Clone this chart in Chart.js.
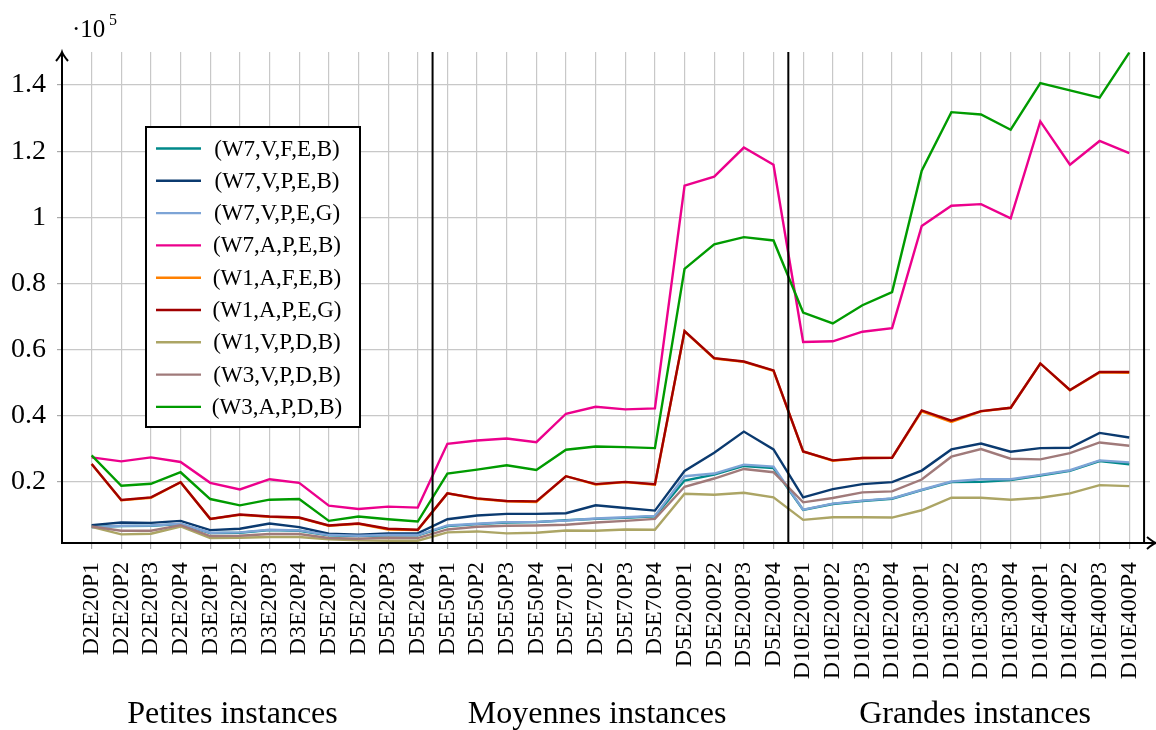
<!DOCTYPE html>
<html>
<head>
<meta charset="utf-8">
<script src="https://cdn.jsdelivr.net/npm/chart.js@4.4.1/dist/chart.umd.min.js"></script>
<style>
  html, body { margin: 0; padding: 0; background: #ffffff; }
  #wrap { width: 1156px; height: 730px; position: relative; }
</style>
</head>
<body>
<div id="wrap"><canvas id="c"></canvas></div>
<script>
// Instance names (x axis)
const instances = [
  'D2E20P1','D2E20P2','D2E20P3','D2E20P4',
  'D3E20P1','D3E20P2','D3E20P3','D3E20P4',
  'D5E20P1','D5E20P2','D5E20P3','D5E20P4',
  'D5E50P1','D5E50P2','D5E50P3','D5E50P4',
  'D5E70P1','D5E70P2','D5E70P3','D5E70P4',
  'D5E200P1','D5E200P2','D5E200P3','D5E200P4',
  'D10E200P1','D10E200P2','D10E200P3','D10E200P4',
  'D10E300P1','D10E300P2','D10E300P3','D10E300P4',
  'D10E400P1','D10E400P2','D10E400P3','D10E400P4'
];

// Instance size groups
const groupNames = ['Petites instances', 'Moyennes instances', 'Grandes instances'];
const groupCentres = [4.75, 17.05, 29.8];
const groupBreaks = [11.5, 23.5, 35.5];

// y ticks, in units of 10^5
const yTicks = [0.2, 0.4, 0.6, 0.8, 1, 1.2, 1.4];

// Series names
const seriesNames = [
  '(W7,V,F,E,B)', '(W7,V,P,E,B)', '(W7,V,P,E,G)', '(W7,A,P,E,B)',
  '(W1,A,F,E,B)', '(W1,A,P,E,G)', '(W1,V,P,D,B)', '(W3,V,P,D,B)', '(W3,A,P,D,B)'
];
const seriesColours = [
  '#00898a', '#0b3a6f', '#7da4d6', '#ec008c',
  '#ff8000', '#a00000', '#aca565', '#a07a7a', '#009b00'
];

// Values, in units of 10^5
const w7vfeb = [
  0.064, 0.066, 0.067, 0.072, 0.045, 0.046, 0.054, 0.052, 0.038, 0.036, 0.038, 0.038,
  0.066, 0.072, 0.077, 0.078, 0.084, 0.088, 0.091, 0.096, 0.204, 0.222, 0.248, 0.242,
  0.115, 0.133, 0.142, 0.149, 0.175, 0.199, 0.200, 0.205, 0.219, 0.233, 0.263, 0.253
];
const w7vpeb = [
  0.069, 0.077, 0.076, 0.082, 0.054, 0.058, 0.074, 0.063, 0.043, 0.040, 0.044, 0.044,
  0.087, 0.098, 0.103, 0.103, 0.105, 0.129, 0.121, 0.113, 0.233, 0.288, 0.352, 0.298,
  0.153, 0.178, 0.193, 0.199, 0.234, 0.298, 0.316, 0.291, 0.302, 0.303, 0.348, 0.334
];
const w7vpeg = [
  0.062, 0.067, 0.068, 0.073, 0.046, 0.047, 0.055, 0.053, 0.039, 0.037, 0.039, 0.039,
  0.068, 0.073, 0.078, 0.079, 0.083, 0.089, 0.093, 0.097, 0.217, 0.225, 0.252, 0.246,
  0.116, 0.134, 0.143, 0.150, 0.176, 0.201, 0.208, 0.208, 0.221, 0.235, 0.265, 0.259
];
const w7apeb = [
  0.274, 0.262, 0.274, 0.260, 0.197, 0.177, 0.208, 0.197, 0.128, 0.118, 0.125, 0.122,
  0.315, 0.325, 0.331, 0.320, 0.406, 0.427, 0.419, 0.422, 1.096, 1.123, 1.211, 1.159,
  0.623, 0.625, 0.654, 0.665, 0.974, 1.035, 1.040, 0.997, 1.290, 1.159, 1.231, 1.194
];
const w1afeb = [
  0.254, 0.144, 0.152, 0.199, 0.088, 0.100, 0.094, 0.091, 0.067, 0.073, 0.056, 0.054,
  0.165, 0.149, 0.141, 0.139, 0.217, 0.192, 0.199, 0.191, 0.655, 0.573, 0.563, 0.536,
  0.292, 0.264, 0.272, 0.273, 0.413, 0.381, 0.413, 0.424, 0.558, 0.477, 0.531, 0.530
];
const w1apeg = [
  0.254, 0.145, 0.153, 0.199, 0.088, 0.101, 0.095, 0.092, 0.068, 0.074, 0.058, 0.055,
  0.165, 0.150, 0.142, 0.141, 0.217, 0.193, 0.200, 0.193, 0.656, 0.574, 0.564, 0.537,
  0.292, 0.265, 0.272, 0.273, 0.416, 0.385, 0.414, 0.424, 0.558, 0.478, 0.532, 0.532
];
const w1vpdb = [
  0.064, 0.041, 0.043, 0.065, 0.030, 0.031, 0.033, 0.033, 0.026, 0.023, 0.022, 0.022,
  0.047, 0.050, 0.044, 0.046, 0.053, 0.052, 0.056, 0.055, 0.164, 0.161, 0.167, 0.153,
  0.085, 0.093, 0.093, 0.092, 0.114, 0.152, 0.152, 0.146, 0.152, 0.165, 0.190, 0.187
];
const w3vpdb = [
  0.065, 0.052, 0.052, 0.069, 0.036, 0.037, 0.042, 0.042, 0.030, 0.028, 0.031, 0.030,
  0.056, 0.064, 0.067, 0.068, 0.070, 0.077, 0.082, 0.088, 0.185, 0.210, 0.239, 0.229,
  0.138, 0.151, 0.168, 0.171, 0.207, 0.276, 0.299, 0.270, 0.268, 0.287, 0.319, 0.309
];
const w3apdb = [
  0.280, 0.188, 0.194, 0.229, 0.148, 0.129, 0.146, 0.148, 0.082, 0.095, 0.087, 0.080,
  0.225, 0.237, 0.250, 0.236, 0.297, 0.307, 0.305, 0.302, 0.844, 0.918, 0.940, 0.930,
  0.712, 0.679, 0.734, 0.774, 1.141, 1.318, 1.311, 1.265, 1.406, 1.384, 1.362, 1.498
];

const seriesValues = [w7vfeb, w7vpeb, w7vpeg, w7apeb, w1afeb, w1apeg, w1vpdb, w3vpdb, w3apdb];

const SERIF = "'Liberation Serif', 'DejaVu Serif', serif";

// Axes with arrows, group separators, group captions, exponent and legend box
const decorations = {
  id: 'decorations',
  afterDatasetsDraw(chart) {
    const { ctx, chartArea: a, scales: { x } } = chart;
    ctx.save();
    ctx.strokeStyle = '#000';
    ctx.fillStyle = '#000';
    ctx.lineWidth = 2;
    ctx.lineCap = 'butt';

    groupBreaks.forEach(v => {
      const px = x.getPixelForValue(v);
      ctx.beginPath();
      ctx.moveTo(px, a.top);
      ctx.lineTo(px, a.bottom);
      ctx.stroke();
    });

    // x axis with arrow
    const xTip = a.right + 6;
    ctx.beginPath();
    ctx.moveTo(a.left - 1, a.bottom);
    ctx.lineTo(xTip - 1, a.bottom);
    ctx.stroke();
    ctx.beginPath();
    ctx.moveTo(xTip - 9, a.bottom - 6);
    ctx.quadraticCurveTo(xTip - 3, a.bottom - 1, xTip, a.bottom);
    ctx.quadraticCurveTo(xTip - 3, a.bottom + 1, xTip - 9, a.bottom + 6);
    ctx.stroke();

    // y axis with arrow
    const yTip = a.top;
    ctx.beginPath();
    ctx.moveTo(a.left, a.bottom + 1);
    ctx.lineTo(a.left, yTip + 1);
    ctx.stroke();
    ctx.beginPath();
    ctx.moveTo(a.left - 6, yTip + 9);
    ctx.quadraticCurveTo(a.left - 1, yTip + 3, a.left, yTip);
    ctx.quadraticCurveTo(a.left + 1, yTip + 3, a.left + 6, yTip + 9);
    ctx.stroke();

    // exponent of the y axis
    ctx.textAlign = 'left';
    ctx.textBaseline = 'alphabetic';
    ctx.font = '25px ' + SERIF;
    ctx.fillText('\u00b710', 72, 37);
    ctx.font = '16px ' + SERIF;
    ctx.fillText('5', 109, 25);

    // group captions
    ctx.textAlign = 'center';
    ctx.font = '32px ' + SERIF;
    groupNames.forEach((g, i) => {
      ctx.fillText(g, x.getPixelForValue(groupCentres[i]), 723);
    });

    // legend
    const lx = 146, ly = 127, lw = 214, lh = 300;
    ctx.fillStyle = '#fff';
    ctx.fillRect(lx, ly, lw, lh);
    ctx.lineWidth = 2;
    ctx.strokeStyle = '#000';
    ctx.strokeRect(lx, ly, lw, lh);
    ctx.font = '23px ' + SERIF;
    ctx.textAlign = 'center';
    ctx.textBaseline = 'middle';
    chart.data.datasets.forEach((ds, i) => {
      const cy = 148.5 + i * 32.3;
      ctx.strokeStyle = ds.borderColor;
      ctx.lineWidth = 2.4;
      ctx.beginPath();
      ctx.moveTo(156, cy);
      ctx.lineTo(201, cy);
      ctx.stroke();
      ctx.fillStyle = '#000';
      ctx.fillText(ds.label, 277, cy + 1);
    });
    ctx.restore();
  }
};

const datasets = seriesNames.map((name, i) => ({
  label: name,
  data: seriesValues[i].map((v, j) => ({ x: j, y: v })),
  borderColor: seriesColours[i],
  backgroundColor: seriesColours[i],
  borderWidth: 2.4,
  pointRadius: 0,
  pointHoverRadius: 0,
  tension: 0,
  fill: false,
  order: seriesNames.length - i
}));

new Chart(document.getElementById('c'), {
  type: 'line',
  data: { datasets },
  plugins: [decorations],
  options: {
    responsive: true,
    maintainAspectRatio: false,
    animation: false,
    events: [],
    layout: { padding: { left: 0, top: 52, right: 6, bottom: 0 } },
    plugins: { legend: { display: false }, tooltip: { enabled: false } },
    scales: {
      x: {
        type: 'linear',
        min: -1,
        max: 35.7,
        afterBuildTicks: s => { s.ticks = instances.map((_, i) => ({ value: i })); },
        afterFit: s => { s.height = 187; s.paddingLeft = 0; s.paddingRight = 0; },
        border: { display: false },
        grid: { color: '#c8c8c8', lineWidth: 1.2, tickLength: 6, tickColor: '#a8a8a8', drawTicks: true },
        ticks: {
          autoSkip: false,
          maxRotation: 90,
          minRotation: 90,
          padding: 13,
          color: '#000',
          font: { family: SERIF, size: 24 },
          callback: v => instances[v]
        }
      },
      y: {
        type: 'linear',
        min: 0.015,
        max: 1.5,
        afterBuildTicks: s => { s.ticks = yTicks.map(v => ({ value: v })); },
        afterFit: s => { s.width = 62; s.paddingTop = 0; s.paddingBottom = 0; },
        border: { display: false },
        grid: { color: '#c8c8c8', lineWidth: 1.2, tickLength: 5, tickColor: '#a8a8a8', drawTicks: true },
        ticks: {
          padding: 11,
          color: '#000',
          font: { family: SERIF, size: 28 },
          callback: v => String(+v.toFixed(1))
        }
      }
    }
  }
});
</script>
</body>
</html>
